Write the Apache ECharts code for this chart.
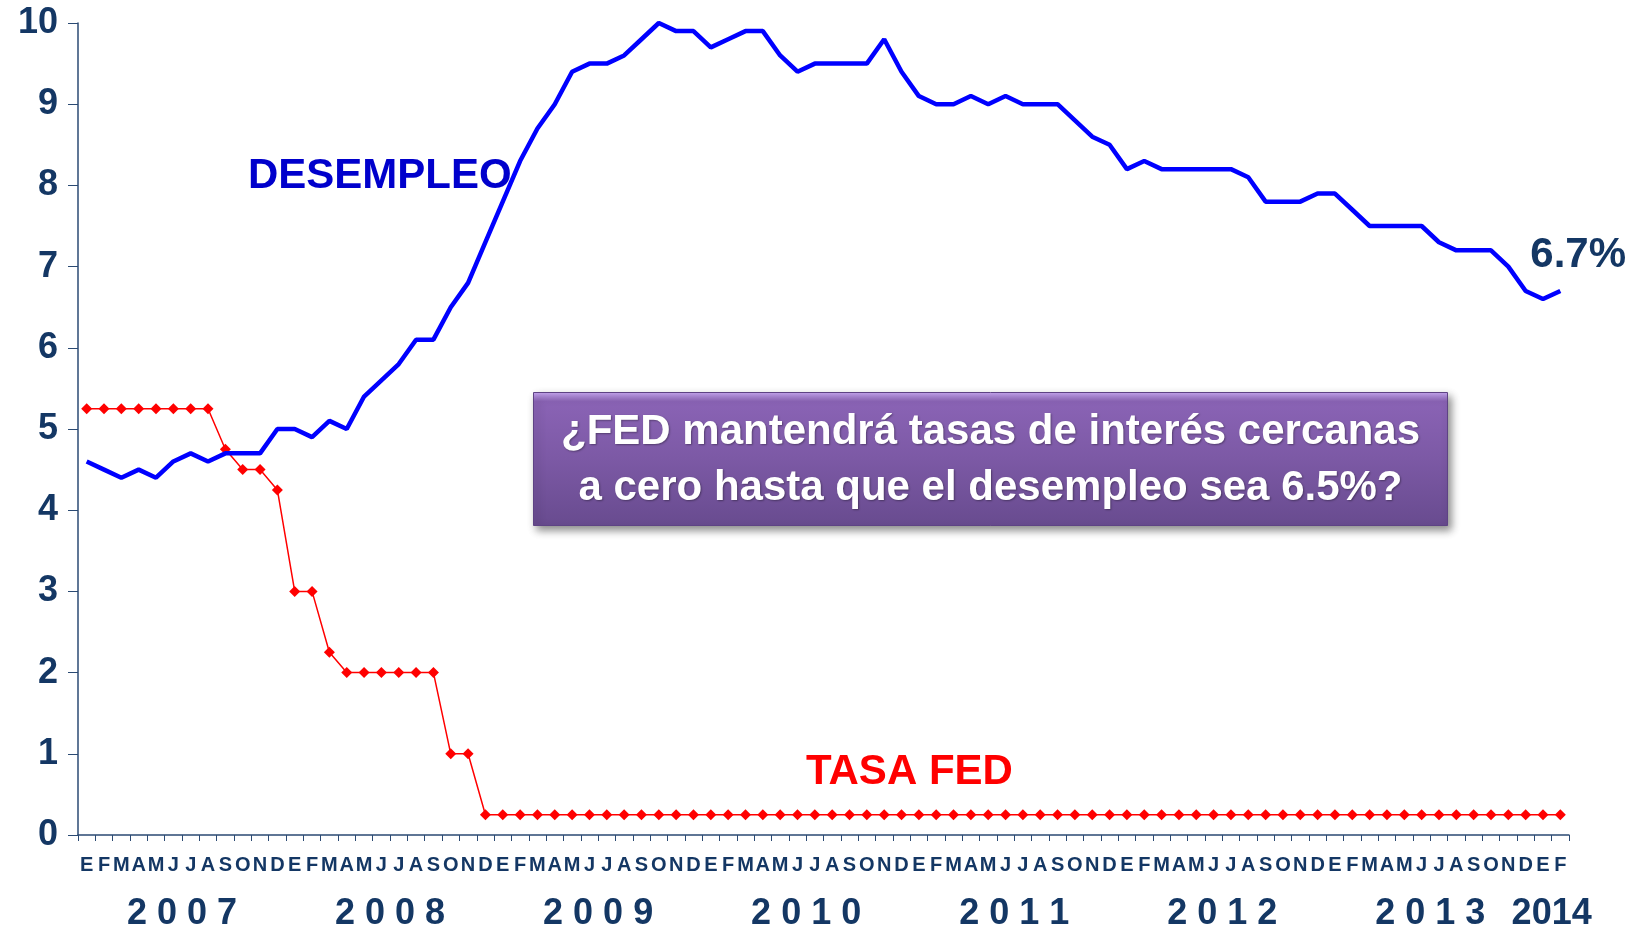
<!DOCTYPE html>
<html>
<head>
    <meta charset="utf-8">
    <title>Desempleo y tasa FED</title>
    <script src="https://cdn.jsdelivr.net/npm/echarts@6/dist/echarts.min.js"></script>
    <style>
        html, body { margin: 0; padding: 0; background: #fff; }
        #main { width: 1637px; height: 937px; }
    </style>
</head>
<body>
<div id="main"></div>
<script type="text/javascript">
    // meses (E = enero ... D = diciembre)
    var monthLetters = ['E', 'F', 'M', 'A', 'M', 'J', 'J', 'A', 'S', 'O', 'N', 'D'];
    var years = ['2 0 0 7', '2 0 0 8', '2 0 0 9', '2 0 1 0', '2 0 1 1', '2 0 1 2', '2 0 1 3', '2014'];
    // posicion del centro de cada año sobre el eje (en meses)
    var yearCenters = [6, 18, 30, 42, 54, 66, 78, 85];

    // tasa de desempleo, ene 2007 - feb 2014
    var desempleo = [
        4.6, 4.5, 4.4, 4.5, 4.4, 4.6, 4.7, 4.6, 4.7, 4.7, 4.7, 5.0,
        5.0, 4.9, 5.1, 5.0, 5.4, 5.6, 5.8, 6.1, 6.1, 6.5, 6.8, 7.3,
        7.8, 8.3, 8.7, 9.0, 9.4, 9.5, 9.5, 9.6, 9.8, 10.0, 9.9, 9.9,
        9.7, 9.8, 9.9, 9.9, 9.6, 9.4, 9.5, 9.5, 9.5, 9.5, 9.8, 9.4,
        9.1, 9.0, 9.0, 9.1, 9.0, 9.1, 9.0, 9.0, 9.0, 8.8, 8.6, 8.5,
        8.2, 8.3, 8.2, 8.2, 8.2, 8.2, 8.2, 8.1, 7.8, 7.8, 7.8, 7.9,
        7.9, 7.7, 7.5, 7.5, 7.5, 7.5, 7.3, 7.2, 7.2, 7.2, 7.0, 6.7,
        6.6, 6.7
    ];

    // tasa de fondos federales
    var tasaFed = [
        5.25, 5.25, 5.25, 5.25, 5.25, 5.25, 5.25, 5.25, 4.75, 4.5, 4.5, 4.25,
        3.0, 3.0, 2.25, 2.0, 2.0, 2.0, 2.0, 2.0, 2.0, 1.0, 1.0, 0.25,
        0.25, 0.25, 0.25, 0.25, 0.25, 0.25, 0.25, 0.25, 0.25, 0.25, 0.25, 0.25,
        0.25, 0.25, 0.25, 0.25, 0.25, 0.25, 0.25, 0.25, 0.25, 0.25, 0.25, 0.25,
        0.25, 0.25, 0.25, 0.25, 0.25, 0.25, 0.25, 0.25, 0.25, 0.25, 0.25, 0.25,
        0.25, 0.25, 0.25, 0.25, 0.25, 0.25, 0.25, 0.25, 0.25, 0.25, 0.25, 0.25,
        0.25, 0.25, 0.25, 0.25, 0.25, 0.25, 0.25, 0.25, 0.25, 0.25, 0.25, 0.25,
        0.25, 0.25
    ];

    var categories = desempleo.map(function (v, i) { return 'm' + i; });

    var navy = '#143764';
    var axisColor = '#2B4A73';
    var fam = '"Liberation Sans", Arial, sans-serif';

    var myChart = echarts.init(document.getElementById('main'));

    var option = {
        animation: false,
        backgroundColor: '#ffffff',
        grid: { left: 78, right: 68, top: 23, bottom: 102 },
        xAxis: [
            {
                type: 'category',
                data: categories,
                boundaryGap: true,
                axisLine: { lineStyle: { color: axisColor, width: 1.5 } },
                axisTick: { show: true, length: 6, lineStyle: { color: axisColor } },
                axisLabel: {
                    interval: 0,
                    margin: 20,
                    color: navy,
                    fontSize: 20,
                    fontWeight: 'bold',
                    fontFamily: fam,
                    formatter: function (v, i) { return monthLetters[i % 12]; }
                }
            },
            {
                type: 'value',
                position: 'bottom',
                min: 0,
                max: 86,
                axisLine: { show: false },
                axisTick: { show: false },
                splitLine: { show: false },
                axisLabel: {
                    customValues: yearCenters,
                    margin: 61,
                    color: navy,
                    fontSize: 36,
                    fontWeight: 'bold',
                    fontFamily: fam,
                    formatter: function (v) { return years[yearCenters.indexOf(v)]; }
                }
            }
        ],
        yAxis: {
            type: 'value',
            min: 0,
            max: 10,
            interval: 1,
            axisLine: { show: true, lineStyle: { color: axisColor, width: 1.5 } },
            axisTick: { show: true, length: 10, lineStyle: { color: axisColor } },
            splitLine: { show: false },
            axisLabel: {
                margin: 20,
                color: navy,
                fontSize: 36,
                fontWeight: 'bold',
                fontFamily: fam
            }
        },
        series: [
            {
                name: 'TASA FED',
                type: 'line',
                data: tasaFed,
                symbol: 'diamond',
                symbolSize: 11,
                itemStyle: { color: '#FF0000' },
                lineStyle: { color: '#FF0000', width: 1.5 },
                z: 3
            },
            {
                name: 'DESEMPLEO',
                type: 'line',
                data: desempleo,
                symbol: 'none',
                lineStyle: { color: '#0000FF', width: 4.5 },
                endLabel: {
                    show: true,
                    formatter: function (p) { return p.value + '%'; },
                    offset: [-38, -36],
                    color: navy,
                    fontSize: 42,
                    fontWeight: 'bold',
                    fontFamily: fam
                },
                z: 4
            }
        ],
        graphic: [
            {
                type: 'text',
                left: 248,
                top: 155,
                style: {
                    text: 'DESEMPLEO',
                    fill: '#0000CC',
                    font: 'bold 42px ' + fam
                },
                z: 2
            },
            {
                type: 'text',
                left: 806,
                top: 751,
                style: {
                    text: 'TASA FED',
                    fill: '#FF0000',
                    font: 'bold 42px ' + fam
                },
                z: 2
            },
            {
                type: 'group',
                left: 533,
                top: 392,
                z: 10,
                children: [
                    {
                        type: 'rect',
                        shape: { x: 0, y: 0, width: 914, height: 133 },
                        style: {
                            fill: new echarts.graphic.LinearGradient(0, 0, 0, 1, [
                                { offset: 0, color: '#C9A9F3' },
                                { offset: 0.07, color: '#8A63B5' },
                                { offset: 0.5, color: '#7C59A5' },
                                { offset: 1, color: '#684B8F' }
                            ]),
                            stroke: '#5E4384',
                            lineWidth: 1,
                            shadowBlur: 8,
                            shadowOffsetX: 3,
                            shadowOffsetY: 4,
                            shadowColor: 'rgba(0,0,0,0.45)'
                        }
                    },
                    {
                        type: 'text',
                        x: 457,
                        y: 68,
                        style: {
                            text: '¿FED mantendrá tasas de interés cercanas\na cero hasta que el desempleo sea 6.5%?',
                            fill: '#ffffff',
                            font: 'bold 42px ' + fam,
                            align: 'center',
                            verticalAlign: 'middle',
                            lineHeight: 56,
                            textShadowColor: 'rgba(0,0,0,0.35)',
                            textShadowBlur: 2,
                            textShadowOffsetX: 1,
                            textShadowOffsetY: 1
                        }
                    }
                ]
            }
        ]
    };

    myChart.setOption(option);
</script>
</body>
</html>
